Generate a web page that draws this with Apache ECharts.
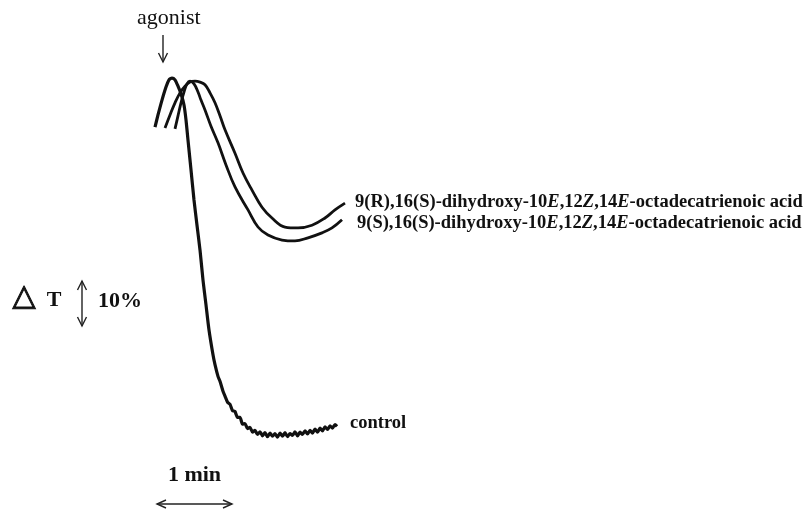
<!DOCTYPE html>
<html>
<head>
<meta charset="utf-8">
<script src="https://cdn.jsdelivr.net/npm/echarts@6/dist/echarts.min.js"></script>
<style>
  html, body { margin: 0; padding: 0; background: #fff; }
  #chart { width: 807px; height: 509px; }
</style>
</head>
<body>
<div id="chart"></div>
<script>
// time (s, agonist added at 0) vs. change in light transmission (%)
var controlTrace = [
  [-8, -0.2], [-5.6, -2.9], [-2.4, -6.2], [0.8, -9.1], [3.2, -10.7], [5.6, -11.1], [8, -10.7],
  [10.4, -9.3], [12.8, -7.6], [15.2, -5.1], [16.8, -1.8], [18.4, 2.7], [20.8, 9.3], [23.2, 16.0],
  [25.6, 21.6], [28, 27.1], [30.4, 33.8], [32.8, 39.3], [35.2, 44.9], [38.4, 50.4], [40, 52.6],
  [42.4, 55.2], [44, 56.3], [46.4, 58.5], [48, 59.6], [50, 60.9], [52, 61.4], [54, 62.8],
  [56, 63.0], [58, 64.3], [60, 64.3], [62, 65.8], [64, 65.7], [66, 66.8], [68, 66.5], [70, 67.6],
  [72, 67.2], [74, 68.1], [76, 67.5], [78, 68.4], [80, 67.7], [82, 68.6], [84, 67.8], [86, 68.5],
  [88, 67.9], [90, 68.7], [92, 67.8], [94, 68.5], [96, 67.7], [98, 68.6], [100, 67.9], [102, 68.3],
  [104, 67.5], [106, 68.4], [108, 67.6], [110, 68.1], [112, 67.3], [114, 68.0], [116, 67.2],
  [118, 67.8], [120, 66.9], [122, 67.6], [124, 66.7], [126, 67.3], [128, 66.4], [130, 67.0],
  [132, 66.2], [134, 66.7], [136, 65.9], [137.6, 66.3]
];
var trace9R = [
  [0, 0], [4, -2.9], [8, -5.6], [12, -7.8], [16, -9.3], [20, -10.2], [24, -10.4], [28, -10.2],
  [32, -9.6], [36, -7.8], [40, -5.6], [44, -2.7], [48, 0.4], [56, 5.6], [62.4, 10.0], [69.6, 13.8],
  [77.6, 17.6], [85.6, 20.0], [96, 22.0], [106.4, 22.2], [117.6, 21.6], [128, 20.0], [136, 18.2],
  [144, 16.7]
];
var trace9S = [
  [8, 0.2], [10.4, -2.7], [12.8, -5.6], [15.2, -8.0], [17.6, -9.8], [20, -10.4], [23.2, -9.8],
  [26.4, -8.0], [28.8, -6.2], [32, -4.0], [36.8, -0.4], [42.4, 3.3], [48.8, 8.2], [56, 13.1],
  [66.4, 18.2], [74.4, 22.0], [82.4, 23.8], [93.6, 24.9], [104, 25.1], [114.4, 24.4], [125.6, 23.3],
  [133.6, 22.2], [141.6, 20.4]
];
var seriesNames = [
  'control',
  '9(R),16(S)-dihydroxy-10{i|E},12{i|Z},14{i|E}-octadecatrienoic acid',
  '9(S),16(S)-dihydroxy-10{i|E},12{i|Z},14{i|E}-octadecatrienoic acid'
];
var scaleTime = 60;   // 1 min
var scalePct = 10;    // 10 %

var serif = '"Liberation Serif", "DejaVu Serif", serif';
var labelSize = 18.5;
var labelRich = {
  i: { fontFamily: serif, fontSize: labelSize, fontWeight: 'bold', fontStyle: 'italic', color: '#111' }
};

function traceSeries(name, data, width, smooth, offset, dist) {
  return {
    type: 'line',
    name: name,
    data: data,
    showSymbol: false,
    smooth: smooth,
    lineStyle: { color: '#111', width: width },
    endLabel: {
      show: true,
      formatter: name,
      distance: dist,
      offset: offset,
      fontFamily: serif,
      fontSize: labelSize,
      fontWeight: 'bold',
      color: '#111',
      rich: labelRich
    }
  };
}

var chart = echarts.init(document.getElementById('chart'));
chart.setOption({
  animation: false,
  backgroundColor: '#fff',
  grid: { left: 146.25, width: 206.25, top: 74, height: 378 },
  xAxis: { type: 'value', min: -15, max: 150, show: false },
  yAxis: { type: 'value', min: -12, max: 72, inverse: true, show: false },
  series: [
    traceSeries(seriesNames[0], controlTrace, 3.2, 0.2, [0, -3], 13),
    traceSeries(seriesNames[1], trace9R, 2.8, 0.4, [0, -1], 10),
    traceSeries(seriesNames[2], trace9S, 2.8, 0.4, [0, 3], 15)
  ]
});

// scale bars sized through the axes
var p0 = chart.convertToPixel({ gridIndex: 0 }, [0, 0]);
var p1 = chart.convertToPixel({ gridIndex: 0 }, [scaleTime, scalePct]);
var barW = p1[0] - p0[0];
var barH = p1[1] - p0[1];

var hx = 157, hy = 504, vx = 82, vy = 281;
var arrowStyle = { stroke: '#222', lineWidth: 1.4, fill: null };

chart.setOption({
  graphic: [
    { type: 'text', left: 137, top: 7, style: { text: 'agonist', font: '22px ' + serif, fill: '#111' } },
    { type: 'polyline', shape: { points: [[163, 35], [163, 62]] }, style: arrowStyle },
    { type: 'polyline', shape: { points: [[158.5, 53], [163, 62], [167.5, 53]] }, style: arrowStyle },

    { type: 'text', x: 24, y: 297, style: { text: '\u25B3', font: 'bold 30px "DejaVu Sans"', fill: '#111',
      stroke: '#111', lineWidth: 1, align: 'center', verticalAlign: 'middle' } },
    { type: 'text', x: 54, y: 300, style: { text: 'T', font: 'bold 22px ' + serif, fill: '#111',
      align: 'center', verticalAlign: 'middle' } },
    { type: 'polyline', shape: { points: [[vx, vy], [vx, vy + barH]] }, style: arrowStyle },
    { type: 'polyline', shape: { points: [[vx - 4.5, vy + 9], [vx, vy], [vx + 4.5, vy + 9]] }, style: arrowStyle },
    { type: 'polyline', shape: { points: [[vx - 4.5, vy + barH - 9], [vx, vy + barH], [vx + 4.5, vy + barH - 9]] }, style: arrowStyle },
    { type: 'text', x: 98, y: 301, style: { text: '10%', font: 'bold 22px ' + serif, fill: '#111',
      align: 'left', verticalAlign: 'middle' } },

    { type: 'text', x: hx + barW / 2, y: 475, style: { text: '1 min', font: 'bold 22px ' + serif, fill: '#111',
      align: 'center', verticalAlign: 'middle' } },
    { type: 'polyline', shape: { points: [[hx, hy], [hx + barW, hy]] }, style: arrowStyle },
    { type: 'polyline', shape: { points: [[hx + 9, hy - 4], [hx, hy], [hx + 9, hy + 4]] }, style: arrowStyle },
    { type: 'polyline', shape: { points: [[hx + barW - 9, hy - 4], [hx + barW, hy], [hx + barW - 9, hy + 4]] }, style: arrowStyle }
  ]
});
</script>
</body>
</html>
